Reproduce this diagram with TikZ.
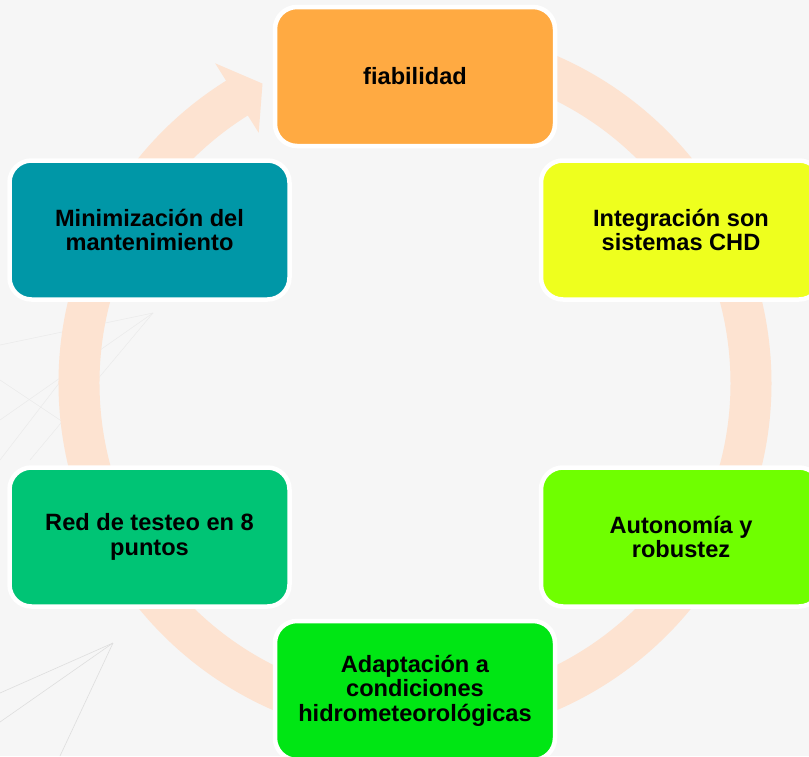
\documentclass[tikz,border=0pt]{standalone}
\usepackage{fontspec}
\setmainfont{Liberation Sans}
\definecolor{bgc}{HTML}{F6F6F6}
\definecolor{ringc}{HTML}{FDE3D1}
\definecolor{decoc}{HTML}{DEDEDE}
\definecolor{decolight}{HTML}{EAEAEA}
\definecolor{cOrange}{HTML}{FFAA42}
\definecolor{cYellow}{HTML}{EEFF1E}
\definecolor{cLime}{HTML}{6FFF00}
\definecolor{cGreen}{HTML}{00E614}
\definecolor{cEmerald}{HTML}{00C475}
\definecolor{cTeal}{HTML}{0097A7}
\begin{document}
\begin{tikzpicture}[x=1pt,y=-1pt,
  box/.style={draw=white, line width=4.5pt, rounded corners=22pt,
    minimum width=280pt, minimum height=139pt, inner sep=0pt,
    align=center, text=black, font=\fontsize{23.6}{24.5}\selectfont\bfseries},
  ringline/.style={draw=ringc, line width=41pt},
  deco/.style={draw=decoc, line width=0.6pt},
  decolt/.style={draw=decolight, line width=0.5pt}]
\useasboundingbox (0,0) rectangle (809,756);
\clip (0,0) rectangle (809,756);
\fill[bgc] (0,0) rectangle (809,756);
% faint background decoration
\draw[deco] (113,643) -- (0,693);
\draw[deco] (113,643) -- (0,722);
\draw[deco] (113,643) -- (60,756);
\draw[decolt] (153,313) -- (0,345);
\draw[decolt] (153,313) -- (0,420);
\draw[decolt] (153,313) -- (30,460);
\draw[decolt] (100,330) -- (0,460);
\draw[decolt] (0,380) -- (90,440);
% circular arrow
\draw[ringline] (385.7,48.3) arc[start angle=-95, end angle=238.5, radius=336];
\fill[ringc] (215.2,63.3) -- (262.5,83.6) -- (258.7,132.8) -- cycle;
% boxes
\node[box, fill=cOrange] (n1) at (415,76.5) {fiabilidad};
\node[box, fill=cYellow] (n2) at (681,230) {Integración son\\sistemas CHD};
\node[box, fill=cLime] (n3) at (681,537) {Autonomía y\\robustez};
\node[box, fill=cGreen] (n4) at (415,690.5) {Adaptación a\\condiciones\\hidrometeorológicas};
\node[box, fill=cEmerald] (n5) at (149.5,537) {Red de testeo en 8\\puntos};
\node[box, fill=cTeal] (n6) at (149.5,230) {Minimización del\\mantenimiento};
\end{tikzpicture}
\end{document}
